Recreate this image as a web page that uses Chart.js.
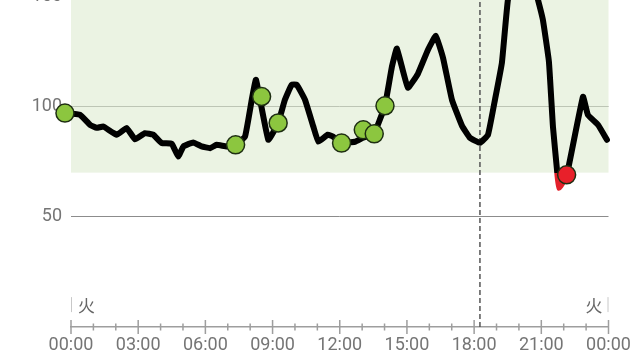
<!DOCTYPE html>
<html><head><meta charset="utf-8">
<script src="https://cdn.jsdelivr.net/npm/chart.js@4"></script>
<style>
html,body{margin:0;padding:0;width:640px;height:360px;overflow:hidden;background:#fff;}
#wrap{position:absolute;left:0;top:-125px;width:640px;height:485px;}
</style></head><body>
<div id="wrap"><canvas id="c"></canvas></div>
<script>
// ---- data ----
const lineHours = [-0.27,0.40,0.85,1.15,1.44,2.04,2.49,2.86,3.30,3.67,4.05,4.50,4.79,5.02,5.46,5.83,6.21,6.50,6.95,7.35,7.77,8.07,8.26,8.81,9.25,9.55,9.85,10.08,10.45,10.82,11.04,11.47,11.70,12.10,12.68,13.04,13.53,13.79,14.02,14.33,14.55,15.04,15.49,15.94,16.29,16.61,17.01,17.46,17.81,18.26,18.62,18.93,19.24,19.51,20.13,20.85,21.07,21.34,21.52,21.70,21.79,22.14,22.86,23.08,23.53,23.93];
const lineValues = [97.0,96.2,91.7,90.3,90.9,87.2,90.2,85.1,87.9,87.2,83.4,83.1,77.3,81.9,83.7,81.9,81.1,82.6,81.9,82.6,86.4,103.0,112.1,84.9,92.5,103.0,109.8,109.8,103.0,90.9,84.1,87.2,86.3,83.5,84.0,85.8,87.6,94.0,100.3,118.0,126.2,108.5,114.8,125.7,132.0,122.1,103.0,91.2,85.8,83.5,87.2,103.0,119.8,148.4,175.6,148.4,139.3,120.3,90.8,71.3,63.1,69.0,104.4,96.2,91.7,84.9];
const dotHours = [-0.27,7.35,8.51,9.25,12.08,13.05,13.54,14.02,22.13];
const dotValues = [97.0,82.6,104.5,92.5,83.4,89.4,87.6,100.3,69.0];
const xTickLabels = ['00:00','03:00','06:00','09:00','12:00','15:00','18:00','21:00','00:00'];
const dayLabels = ['火','火'];
const targetLow = 70;
const targetHigh = 180;
const nowHour = 18.26;

const lineData = lineHours.map((h,i)=>({x:h,y:lineValues[i]}));
const dotData = dotHours.map((h,i)=>({x:h,y:dotValues[i]}));

const GREY = '#757575';
const FONT = {family:'Roboto', size:18};

function lineGradient(ctx){
  const chart = ctx.chart; const area = chart.chartArea;
  if(!area) return '#000';
  const y70 = chart.scales.y.getPixelForValue(targetLow);
  const g = chart.ctx.createLinearGradient(0, area.top, 0, area.bottom);
  const s = Math.min(1, Math.max(0, (y70 - area.top)/(area.bottom - area.top)));
  g.addColorStop(0,'#000'); g.addColorStop(s,'#000');
  g.addColorStop(s,'#e3202a'); g.addColorStop(1,'#e3202a');
  return g;
}

const bgPlugin = {
  id:'bg',
  beforeDatasetsDraw(chart){
    const {ctx, chartArea:a, scales:{x,y}} = chart;
    ctx.save();
    const yt = y.getPixelForValue(targetHigh), yb = y.getPixelForValue(targetLow);
    ctx.fillStyle = 'rgba(222,235,208,0.6)';
    ctx.fillRect(a.left, yt, a.right - a.left, yb - yt);
    const xn = x.getPixelForValue(nowHour);
    ctx.strokeStyle = '#555'; ctx.lineWidth = 1.5; ctx.setLineDash([5,3]);
    ctx.beginPath(); ctx.moveTo(xn, 0); ctx.lineTo(xn, a.bottom); ctx.stroke();
    ctx.setLineDash([]);
    ctx.strokeStyle = '#c8c8c8'; ctx.lineWidth = 1;
    ctx.beginPath();
    ctx.moveTo(a.left+0.5, a.bottom-30); ctx.lineTo(a.left+0.5, a.bottom-15);
    ctx.moveTo(a.right-0.5, a.bottom-30); ctx.lineTo(a.right-0.5, a.bottom-15);
    ctx.stroke();
    ctx.fillStyle = '#666'; ctx.font = '17px "Noto Sans CJK JP"'; ctx.textBaseline = 'middle';
    ctx.textAlign = 'left'; ctx.fillText(dayLabels[0], a.left+7, a.bottom-22);
    ctx.textAlign = 'right'; ctx.fillText(dayLabels[1], a.right-6, a.bottom-22);
    ctx.restore();
  },
  afterDraw(chart){
    const {ctx, chartArea:a, scales:{x}} = chart;
    ctx.save();
    ctx.strokeStyle = '#9e9e9e'; ctx.lineWidth = 1.5;
    ctx.beginPath();
    for(let h=0; h<=24; h++){
      const px = x.getPixelForValue(h);
      const len = h%3===0 ? 7 : 3.5;
      ctx.moveTo(px, a.bottom-len); ctx.lineTo(px, a.bottom+len);
    }
    ctx.stroke();
    ctx.restore();
  }
};

const chart = new Chart(document.getElementById('c'), {
  data:{
    datasets:[
      {type:'scatter', data:dotData, order:1, clip:false,
       pointRadius:9, pointHoverRadius:9, borderWidth:1.5,
       borderColor:'#1e2e12',
       backgroundColor:(c)=> (c.raw && c.raw.y < targetLow) ? '#e8202a' : '#8cc63f'},
      {type:'line', data:lineData, order:2, clip:false,
       borderColor:lineGradient, borderWidth:6, pointRadius:0, tension:0.1,
       borderJoinStyle:'round', borderCapStyle:'round', fill:false}
    ]
  },
  options:{
    responsive:true, maintainAspectRatio:false, animation:false,
    layout:{padding:{left:0,right:31.5,top:0,bottom:0}},
    plugins:{legend:{display:false}, tooltip:{enabled:false}},
    scales:{
      x:{type:'linear', min:0, max:24,
         afterFit:(s)=>{s.height=33;},
         grid:{display:false, drawTicks:false},
         border:{display:true, color:'#9e9e9e', width:1.5},
         afterBuildTicks:(s)=>{s.ticks = xTickLabels.map((l,i)=>({value:i*3}));},
         ticks:{color:GREY, font:FONT, padding:8, maxRotation:0, autoSkip:false,
                callback:(v,i)=>xTickLabels[i]}},
      y:{type:'linear', min:0, max:200,
         afterFit:(s)=>{s.width=71;},
         grid:{drawTicks:false, color:(c)=> c.tick.value===0 ? 'rgba(0,0,0,0)' : '#8c8c8c', lineWidth:1},
         border:{display:false},
         ticks:{stepSize:50, color:GREY, font:FONT, padding:9,
                callback:(v)=> v===0 ? '' : String(v)}}
    }
  },
  plugins:[bgPlugin]
});

(function fit(){
  const t = chart.chartArea.top;
  const H = 33 + t + 200*2.2066;
  const off = H - 360;
  const w = document.getElementById('wrap');
  w.style.height = H + 'px';
  w.style.top = (-off) + 'px';
  chart.resize(640, H);
})();
</script>
</body></html>
